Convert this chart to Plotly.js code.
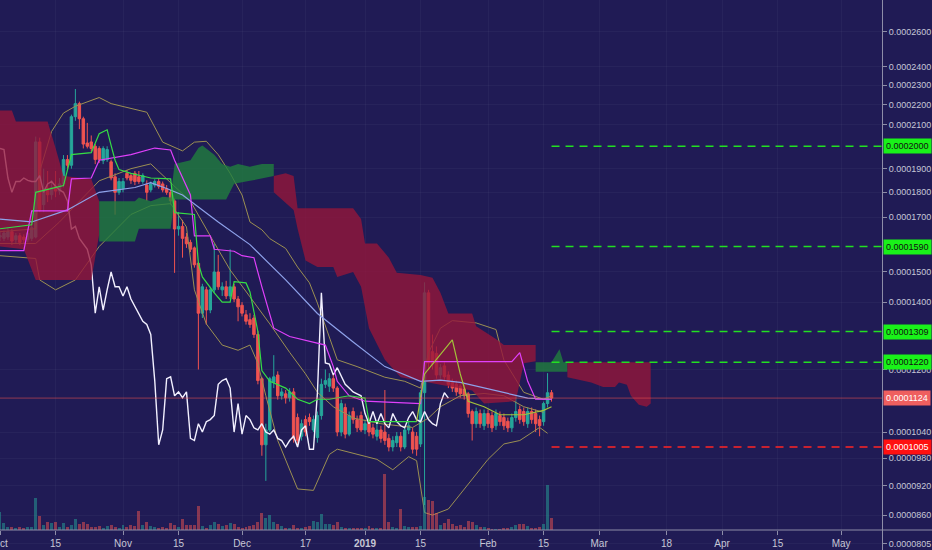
<!DOCTYPE html>
<html>
<head>
<meta charset="utf-8">
<script src="https://cdn.plot.ly/plotly-3.0.1.min.js"></script>
<style>
  html, body { margin: 0; padding: 0; background: #201b55; }
  #chart { width: 932px; height: 550px; }
</style>
</head>
<body>
<div id="chart"></div>
<script>
// daily candles from 2018-10-01, all prices in satoshi
const startDay = Date.UTC(2018, 9, 1)
function day(i) { return new Date(startDay + i * 86400000).toISOString().slice(0, 10) }
function sat(v) { return v / 1e8 }

const opens = [
    16250,16200,16250,16450,16150,16300,16250,16150,16200,16250,
    20200,17500,18150,17900,18250,18050,18350,19400,19150,21400,
    22050,21300,20150,20200,20000,19900,19350,19400,19300,18650,
    18000,18150,18800,18700,18800,18650,18450,18300,18100,18300,
    18450,18350,18150,18000,17650,16550,16650,16250,16050,15850,
    15300,13650,14400,13750,14400,15000,14400,14500,14200,14500,
    14100,13900,13600,13450,13500,13000,11750,10100,10450,11650,
    11850,11300,11350,11250,11400,10750,10300,10700,10750,10450,
    10270,10800,11600,11550,11750,11500,10400,11000,10350,10900,
    10700,10800,10450,10650,10500,10300,10450,10400,10250,10050,
    10150,10300,10050,10450,10400,10300,10120,11380,14300,12500,
    12450,11850,12100,11850,11650,11600,11550,11500,11350,10900,
    10600,10850,10550,10850,10800,10550,10800,10750,10660,10500,
    10750,10950,10900,10600,10900,10850,10700,10650,11100,11380]
const highs = [
    16450,16500,16600,16550,16400,16400,16350,16500,16700,20450,
    20400,19000,18900,18500,18900,18600,19600,19600,21500,22800,
    22150,21400,21100,20500,20100,20000,20000,20000,19400,18800,
    18600,18600,18950,18800,18900,18900,18800,18500,18450,18550,
    18600,18450,18300,18100,17750,17200,16900,16400,16150,15900,
    15350,14600,14500,14500,16000,15600,14650,14700,15800,14600,
    14200,14000,13750,13650,13600,13100,11800,10600,11800,12400,
    11950,11500,11450,11500,11500,10850,10700,10800,10850,10800,
    10900,11750,12000,11900,11850,11550,11200,11100,10900,11000,
    10800,10900,10700,10750,10600,10600,10550,11450,10350,10300,
    10400,10400,10500,10650,10500,10400,11450,14650,14400,13000,
    12650,12150,12200,11950,11750,11700,11600,11600,11400,10950,
    11000,10950,10950,10950,10900,10950,10900,10850,10750,10850,
    11300,11050,11000,11000,11000,10950,10800,11150,11900,11450]
const lows = [
    16100,16100,16150,15950,16000,15950,16000,16050,16100,16200,
    17200,17200,17600,17700,17800,17900,18200,19000,19000,21200,
    20800,19900,19900,19750,19200,19250,19200,19300,18500,17100,
    17900,18000,18500,18350,18300,18350,18350,17650,18000,18200,
    18150,18000,17900,17500,14970,16300,15500,15850,15700,15150,
    12000,13500,13300,13650,14300,14400,14200,14100,14100,14000,
    13400,13550,13300,13200,12900,11600,9850,9300,10400,11500,
    11200,11200,11100,11150,10150,10100,10200,10300,10550,10400,
    10150,10700,11500,11400,11400,10300,10300,10250,10300,10600,
    10400,10400,10350,10300,10250,10200,10150,10100,9950,9950,
    10050,9950,10000,10350,9900,9850,10050,8800,12000,12000,
    11750,11750,11700,11500,11400,11300,11250,11200,10750,10200,
    10500,10500,10450,10500,10400,10450,10550,10450,10400,10400,
    10650,10600,10550,10500,10600,10400,10300,10550,11000,11150]
const closes = [
    16300,16400,16450,16100,16300,16050,16150,16400,16600,20200,
    17300,18150,17900,18200,18050,18350,19400,19150,21400,22050,
    21300,20100,20000,19900,19400,19400,19900,19850,18600,18000,
    18450,18450,18600,18500,18450,18450,18700,18000,18350,18450,
    18250,18100,18000,17650,16550,16650,16200,16000,15800,15250,
    13650,14500,13750,14400,15000,14500,14500,14200,14500,14100,
    13850,13650,13400,13300,13000,11700,10100,10450,11750,11800,
    11300,11400,11250,11400,10250,10200,10600,10400,10650,10700,
    10800,11600,11700,11750,11500,10400,11100,10350,10800,10700,
    10500,10450,10600,10400,10350,10450,10250,10200,10050,10200,
    10300,10050,10450,10550,10000,10000,11380,14300,12180,12150,
    11850,12050,11800,11600,11500,11400,11350,11300,10850,10600,
    10900,10600,10850,10600,10500,10850,10650,10550,10500,10750,
    10900,10700,10650,10900,10700,10600,10550,11100,11380,11240]
// volume, same days (relative units)
const volumes = [
    18,7,3,3,2,3,2,3,3,32,
    14,5,8,7,8,3,7,3,5,11,
    6,8,6,3,3,4,2,4,5,3,
    2,5,3,5,4,19,5,8,4,3,
    2,3,2,7,5,3,11,5,5,5,
    24,4,2,5,8,6,4,5,7,6,
    3,2,3,4,5,8,17,12,15,8,
    6,4,2,2,5,2,2,3,4,9,
    8,16,6,6,5,8,3,2,2,2,
    2,2,2,4,2,2,2,56,8,3,
    2,21,4,3,3,3,4,33,30,29,
    17,5,7,11,6,4,5,3,9,8,
    5,3,3,2,1,1,1,2,2,3,
    5,6,6,4,2,2,3,6,45,12]

// indicator lines: day index, value in satoshi
const tenkanDays = [0,8,9,16,18,23,25,27,28,29,30,33,38,43,44,49,50,51,54,56,58,59,62,63,65,66,68,72,75,78,80,83,88,92,93,105]
const tenkanVals = [16560,16710,18000,18280,19620,19710,20580,20770,20040,19370,18960,18800,18600,18560,17180,17110,15300,14830,14300,14000,14000,14670,14630,14330,13090,11970,11680,11500,11210,11100,11210,11210,11300,11240,10650,10650]
const tenkanLateDays = [105,106,107,114,116,118,122,126,132,137,139]
const tenkanLateVals = [10650,11300,11880,12840,11880,11160,11020,10820,10820,10930,11020]
const kijunDays = [0,6,8,17,18,23,25,33,39,43,44,48,49,53,54,59,61,64,66,69,73,82,84,85,88,92,106,107,129,131,133,135,139]
const kijunVals = [15750,15750,17250,17250,18560,18600,19370,19620,19920,19830,19370,17890,16290,16290,15800,15730,15570,15500,14500,13190,12940,12690,12080,11680,11300,11160,11100,12220,12220,12470,11680,11210,11210]
const slowMaDays = [0,8,17,25,34,38,42,46,55,63,72,80,89,97,106,111,116,122,128,133,139]
const slowMaVals = [16930,16820,17290,18000,18200,18400,18160,17890,16820,15970,14730,13640,12780,12080,11680,11710,11650,11500,11360,11240,11210]
const bbUpDays = [0,9,10,13,16,19,25,28,37,41,46,49,52,55,58,61,63,66,68,72,75,78,80,85,90,97,102,106,108,111,114,120,125,127,132,137,139]
const bbUpVals = [16450,16560,18880,20690,21580,21920,22360,22050,21620,20190,19790,20190,20230,19620,18800,17890,16820,16520,16190,15830,15170,14630,13970,12270,12080,11790,11680,11500,12470,13190,13420,13350,13150,12260,11390,11210,11300]
const bbMidDays = [0,9,15,25,33,38,43,48,53,58,63,68,73,77,80,84,89,96,104,108,111,116,122,127,132,137]
const bbMidVals = [16010,16010,16820,18480,19000,19210,18400,17640,16290,15070,14170,13320,12480,11880,11390,11020,10740,10600,10510,10740,11020,11300,11360,11300,11020,10880]
const bbLowDays = [0,9,10,14,19,25,33,38,43,47,49,52,56,60,63,65,67,70,75,79,83,85,95,99,103,105,107,109,113,117,123,127,131,136,138]
const bbLowVals = [15570,15470,14730,14400,14730,15900,17110,17460,17540,16630,14400,13320,12690,12540,12690,12170,11300,10200,9130,9100,9880,10000,9770,9540,9830,9740,8650,8600,8720,9130,9770,10120,10200,10510,10370]

// ichimoku cloud pieces: top edge and bottom edge
const cloudR1 = { topDays: [0,3,4,12,14,16,23,25], top: [21710,21710,21170,21170,19920,18680,18560,17640],
                  botDays: [0,6,9,23,25], bot: [15900,15800,14730,14730,16340] }
const cloudG1 = { topDays: [25,34,35,38,41,43,44,48,50,51,54,56,58,60,63,66,69],
                  top: [17640,17640,17790,17640,17820,17790,19210,19370,19920,20040,19620,19210,19080,19210,19080,19210,19210],
                  botDays: [25,34,35,43,44,57,59,63,69], bot: [16080,16080,16560,16560,17710,17710,18360,18480,18680] }
const cloudR2 = { topDays: [69,72,74,75,89,91,92,95,98,100,106,109,111,113,119,120,125,127,135],
                  top: [18680,18800,18680,17360,17360,16930,16010,16010,15500,14970,14900,14800,14300,13640,13640,13250,12870,12690,12690],
                  botDays: [69,74,75,77,80,84,85,89,91,93,97,101,106,111,119,122,130,132,135],
                  bot: [18000,17290,16560,15400,15170,15170,14830,15000,14500,13190,12270,11790,11680,11590,11440,11100,11160,12170,12230] }
const cloudG2 = { topDays: [135,139,141,142,143], top: [12200,12200,12570,12200,12200],
                  botDays: [135,143], bot: [11940,11940] }
const cloudR3 = { topDays: [143,164], top: [12200,12200],
                  botDays: [143,149,152,155,156,158,159,161,163,164], bot: [11790,11650,11530,11530,11650,11590,11300,11070,11020,11100] }

// drawn levels
const targetLevels = [20000, 15900, 13090, 12200]
const supportLevel = 10050
const lastPrice = 11240

const xTickDays = ["2018-10-01","2018-10-15","2018-11-01","2018-11-15","2018-12-01","2018-12-17","2019-01-01","2019-01-15","2019-02-01","2019-02-15","2019-03-01","2019-03-18","2019-04-01","2019-04-15","2019-05-01"]
const xTickText = ["Oct","15","Nov","15","Dec","17","<b>2019</b>","15","Feb","15","Mar","18","Apr","15","May"]
const yTickVals = [26000,24000,23000,22000,21000,19000,18000,17000,15000,14000,12000,10400,9800,9200,8600,8050]

const endDate = "2019-05-11 07:00"
const days = opens.map((_, i) => day(i))
const axisFrac = 20 / 550   // time axis sits 20px above the bottom edge

function line(dayIdx, vals, color, width) {
    return {
        type: "scatter", mode: "lines",
        x: dayIdx.map(day), y: vals.map(sat),
        line: { color: color, width: width },
        hoverinfo: "skip", showlegend: false,
    }
}

function cloud(c, color) {
    return {
        type: "scatter", mode: "lines",
        x: c.topDays.map(day).concat(c.botDays.slice().reverse().map(day)),
        y: c.top.concat(c.bot.slice().reverse()).map(sat),
        fill: "toself", fillcolor: color,
        line: { width: 0 },
        hoverinfo: "skip", showlegend: false,
    }
}

const red = "rgba(150,22,58,0.78)"
const green = "rgba(32,128,62,0.78)"

const traces = [
    {
        type: "bar", x: days, y: volumes, yaxis: "y2",
        width: 0.75 * 86400000,
        marker: { color: closes.map((c, i) => c >= opens[i] ? "rgba(38,166,154,0.5)" : "rgba(239,83,80,0.5)") },
        hoverinfo: "skip", showlegend: false,
    },
    line(bbUpDays, bbUpVals, "#9b8f52", 1),
    line(bbMidDays, bbMidVals, "#9b8f52", 1),
    line(bbLowDays, bbLowVals, "#9b8f52", 1),
    {
        type: "scatter", mode: "lines",
        x: closes.slice(26).map((_, i) => day(i)), y: closes.slice(26).map(sat),
        line: { color: "#f2f0ff", width: 1.4 },
        hoverinfo: "skip", showlegend: false,
    },
    cloud(cloudR1, red),
    cloud(cloudG1, green),
    cloud(cloudR2, red),
    cloud(cloudG2, green),
    cloud(cloudR3, red),
    line(slowMaDays, slowMaVals, "#8ea2ea", 1.2),
    line(kijunDays, kijunVals, "#e040fb", 1.2),
    line(tenkanDays, tenkanVals, "#35dd45", 1.2),
    line(tenkanLateDays, tenkanLateVals, "#a3c23a", 1.2),
    {
        type: "scatter", mode: "lines",
        x: [day(0), endDate], y: [sat(lastPrice), sat(lastPrice)],
        line: { color: "rgba(239,83,80,0.55)", width: 1 },
        hoverinfo: "skip", showlegend: false,
    },
]

targetLevels.forEach(v => traces.push({
    type: "scatter", mode: "lines",
    x: [day(139), endDate], y: [sat(v), sat(v)],
    line: { color: "#22e022", width: 1.5, dash: "8px,6px" },
    hoverinfo: "skip", showlegend: false,
}))
traces.push({
    type: "scatter", mode: "lines",
    x: [day(139), endDate], y: [sat(supportLevel), sat(supportLevel)],
    line: { color: "#ff2424", width: 1.5, dash: "8px,6px" },
    hoverinfo: "skip", showlegend: false,
})

traces.push({
    type: "candlestick", x: days,
    open: opens.map(sat), high: highs.map(sat), low: lows.map(sat), close: closes.map(sat),
    increasing: { line: { color: "#26a69a", width: 1 }, fillcolor: "#26a69a" },
    decreasing: { line: { color: "#ef5350", width: 1 }, fillcolor: "#ef5350" },
    whiskerwidth: 0,
    hoverinfo: "skip", showlegend: false,
})

function priceBox(v, bg, fg) {
    return {
        x: 1, xref: "paper", xanchor: "left", xshift: 1,
        y: Math.log10(sat(v)), yref: "y", yanchor: "middle",
        text: sat(v).toFixed(7), showarrow: false,
        bgcolor: bg, borderpad: 2,
        font: { family: "Liberation Sans, Arial, sans-serif", size: 9, color: fg },
    }
}

const annotations = targetLevels.map(v => priceBox(v, "#19f219", "#111111"))
annotations.push(priceBox(lastPrice, "#ef5f5f", "#ffffff"))
annotations.push(priceBox(supportLevel, "#ff1010", "#ffffff"))

const tickFont = { family: "Liberation Sans, Arial, sans-serif", size: 10, color: "#c6c7d6" }

Plotly.newPlot(
    document.getElementById("chart"),
    traces,
    {
        width: 932,
        height: 550,
        margin: { l: 0, r: 50, t: 0, b: 0 },
        paper_bgcolor: "#201b55",
        plot_bgcolor: "#201b55",
        showlegend: false,
        boxgap: 0.12,
        xaxis: {
            type: "date",
            range: ["2018-10-01", endDate],
            rangeslider: { visible: false },
            anchor: "free",
            position: axisFrac,
            tickvals: xTickDays,
            ticktext: xTickText,
            ticks: "outside", ticklen: 4, tickcolor: "#8d8da8",
            showline: false,
            showgrid: true, gridcolor: "rgba(255,255,255,0.035)",
            zeroline: false,
            tickfont: tickFont,
            ticklabeloverflow: "allow",
            fixedrange: true,
        },
        yaxis: {
            type: "log",
            side: "right",
            range: [-4.1002, -3.5536],
            tickvals: yTickVals.map(sat),
            ticktext: yTickVals.map(v => sat(v).toFixed(7)),
            ticks: "outside", ticklen: 4, tickcolor: "#8d8da8",
            showline: true, linecolor: "#8d8da8",
            showgrid: true, gridcolor: "rgba(255,255,255,0.035)",
            zeroline: false,
            tickfont: { family: "Liberation Sans, Arial, sans-serif", size: 9, color: "#c6c7d6" },
            fixedrange: true,
        },
        yaxis2: {
            overlaying: "y",
            range: [-20, 530],
            visible: false,
            fixedrange: true,
        },
        bargap: 0,
        shapes: [{
            type: "line", xref: "paper", yref: "paper",
            x0: 0, x1: 932 / 882, y0: axisFrac, y1: axisFrac,
            line: { color: "#8d8da8", width: 1 },
        }],
        annotations: annotations,
    },
    { staticPlot: true, displayModeBar: false }
)
</script>
</body>
</html>
